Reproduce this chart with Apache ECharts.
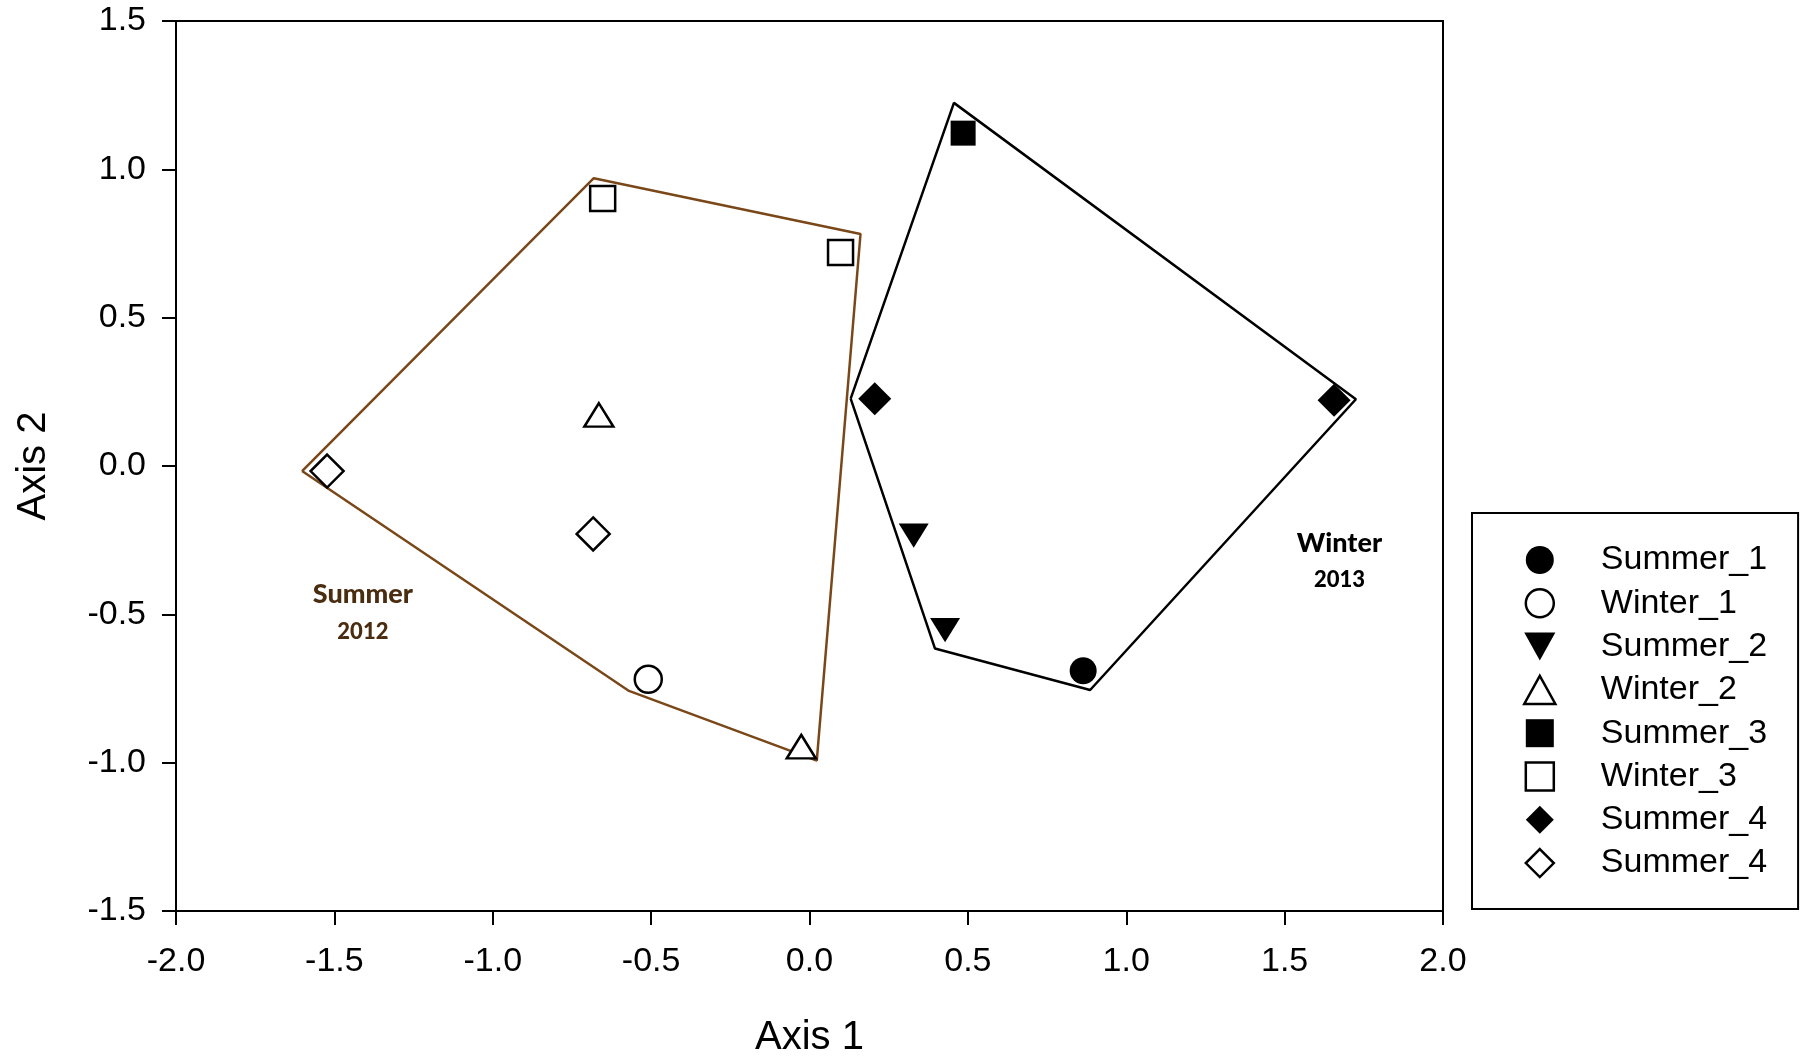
<!DOCTYPE html>
<html><head><meta charset="utf-8">
<script src="https://cdn.jsdelivr.net/npm/echarts@6/dist/echarts.min.js"></script>
<style>html,body{margin:0;padding:0;background:#fff}#c{width:1803px;height:1056px}</style>
</head><body><div id="c"></div>
<script>
// ---- data (Axis 1, Axis 2) ----
const seriesNames = ['Summer_1','Winter_1','Summer_2','Winter_2','Summer_3','Winter_3','Summer_4','Summer_4 '];
const summer1 = [[0.864,-0.690]];
const winter1 = [[-0.509,-0.719]];
const summer2 = [[0.329,-0.235],[0.428,-0.553]];
const winter2 = [[-0.665,0.172],[-0.026,-0.946]];
const summer3 = [[0.485,1.122]];
const winter3 = [[-0.653,0.902],[0.098,0.720]];
const summer4Filled = [[0.206,0.227],[1.656,0.222]];
const summer4Open = [[-1.523,-0.017],[-0.683,-0.229]];
const hull2012 = [[-1.602,-0.017],[-0.681,0.970],[0.161,0.782],[0.023,-0.993],[-0.572,-0.757],[-1.602,-0.017]];
const hull2013 = [[0.130,0.227],[0.456,1.224],[1.725,0.225],[0.886,-0.755],[0.396,-0.615],[0.130,0.227]];
const groupLabels = [[-1.410,-0.496,'Summer','2012'],[1.673,-0.322,'Winter','2013']];
const xRange = [-2.0, 2.0];
const yRange = [-1.5, 1.5];
const tickStep = 0.5;
const xTitle = 'Axis 1';
const yTitle = 'Axis 2';

// ---- styling ----
const BLACK = '#000';
const WHITE = '#fff';
const BROWN_LINE = '#7a4719';
const BROWN_TEXT = '#4a2c10';
const labelColors = [BROWN_TEXT, BLACK];
const triDown = 'path://M0,0L10,0L5,9Z';
const triUp = 'path://M5,0L10,9L0,9Z';
const square = 'path://M0,0L10,0L10,10L0,10Z';
const diamond = 'path://M5,0L10,5L5,10L0,5Z';
const font = 'Liberation Sans, Arial, sans-serif';

const styles = [
  {data: summer1, symbol: 'circle', size: 27, fill: BLACK},
  {data: winter1, symbol: 'circle', size: 27, fill: WHITE},
  {data: summer2, symbol: triDown, size: [30, 27], fill: BLACK},
  {data: winter2, symbol: triUp, size: [29, 26], fill: WHITE},
  {data: summer3, symbol: square, size: 25, fill: BLACK},
  {data: winter3, symbol: square, size: 25, fill: WHITE},
  {data: summer4Filled, symbol: diamond, size: 33, fill: BLACK},
  {data: summer4Open, symbol: diamond, size: 33, fill: WHITE}
];

const series = [];
series.push({
  type: 'line', data: hull2012, symbol: 'none', silent: true, z: 1,
  lineStyle: {color: BROWN_LINE, width: 2.5}
});
series.push({
  type: 'line', data: hull2013, symbol: 'none', silent: true, z: 1,
  lineStyle: {color: BLACK, width: 2.5}
});
styles.forEach((s, i) => {
  series.push({
    type: 'scatter', name: seriesNames[i], data: s.data,
    symbol: s.symbol, symbolSize: s.size, symbolKeepAspect: true, z: 3,
    itemStyle: {color: s.fill, borderColor: BLACK, borderWidth: s.fill === WHITE ? 2.5 : 0, opacity: 1}
  });
});
groupLabels.forEach((g, i) => {
  const c = labelColors[i];
  series.push({
    type: 'scatter', data: [g], symbolSize: 0, silent: true, z: 4,
    itemStyle: {color: c},
    label: {
      show: true, position: 'inside', color: c, opacity: 1,
      fontFamily: 'Lato', fontWeight: 900, fontSize: 28,
      textBorderWidth: 0, textBorderColor: 'transparent',
      formatter: p => '{a|' + p.value[2] + '}\n{b|' + p.value[3] + '}',
      rich: {
        a: {fontFamily: 'Lato', fontWeight: 900, fontSize: 27, color: c, lineHeight: 37, align: 'center', textBorderWidth: 0},
        b: {fontFamily: 'Lato', fontWeight: 900, fontSize: 22, color: c, lineHeight: 37, align: 'center', textBorderWidth: 0}
      }
    }
  });
});

const chart = echarts.init(document.getElementById('c'), null, {renderer: 'canvas'});
chart.setOption({
  animation: false,
  backgroundColor: '#fff',
  grid: {left: 176, right: 360, top: 21, bottom: 145, containLabel: false, outerBoundsMode: 'none',
         show: true, borderColor: BLACK, borderWidth: 2, backgroundColor: 'transparent'},
  xAxis: {
    type: 'value', min: xRange[0], max: xRange[1], interval: tickStep,
    name: xTitle, nameLocation: 'middle', nameGap: 107,
    nameTextStyle: {fontFamily: font, fontSize: 40, color: BLACK},
    axisLine: {show: true, onZero: false, lineStyle: {color: BLACK, width: 2}},
    axisTick: {show: true, inside: false, length: 14, lineStyle: {color: BLACK, width: 2}},
    axisLabel: {fontFamily: font, fontSize: 34, color: BLACK, margin: 34, formatter: v => v.toFixed(1)},
    splitLine: {show: false}
  },
  yAxis: {
    type: 'value', min: yRange[0], max: yRange[1], interval: tickStep,
    name: yTitle, nameLocation: 'middle', nameGap: 122,
    nameTextStyle: {fontFamily: font, fontSize: 40, color: BLACK},
    axisLine: {show: true, onZero: false, lineStyle: {color: BLACK, width: 2}},
    axisTick: {show: true, inside: false, length: 14, lineStyle: {color: BLACK, width: 2}},
    axisLabel: {fontFamily: font, fontSize: 34, color: BLACK, margin: 30, formatter: v => v.toFixed(1)},
    splitLine: {show: false}
  },
  legend: {
    orient: 'vertical', left: 1472, top: 513,
    padding: [30, 31, 29, 51],
    itemWidth: 112, itemHeight: 28, itemGap: 9.3,
    borderColor: BLACK, borderWidth: 2, borderRadius: 0,
    selectedMode: false,
    textStyle: {fontFamily: font, fontSize: 34, color: BLACK},
    formatter: n => n.trim(),
    data: seriesNames.map((n, i) => ({
      name: n,
      itemStyle: {color: styles[i].fill, borderColor: BLACK, borderWidth: styles[i].fill === WHITE ? 2.5 : 0}
    }))
  },
  series: series
});
</script>
</body></html>
